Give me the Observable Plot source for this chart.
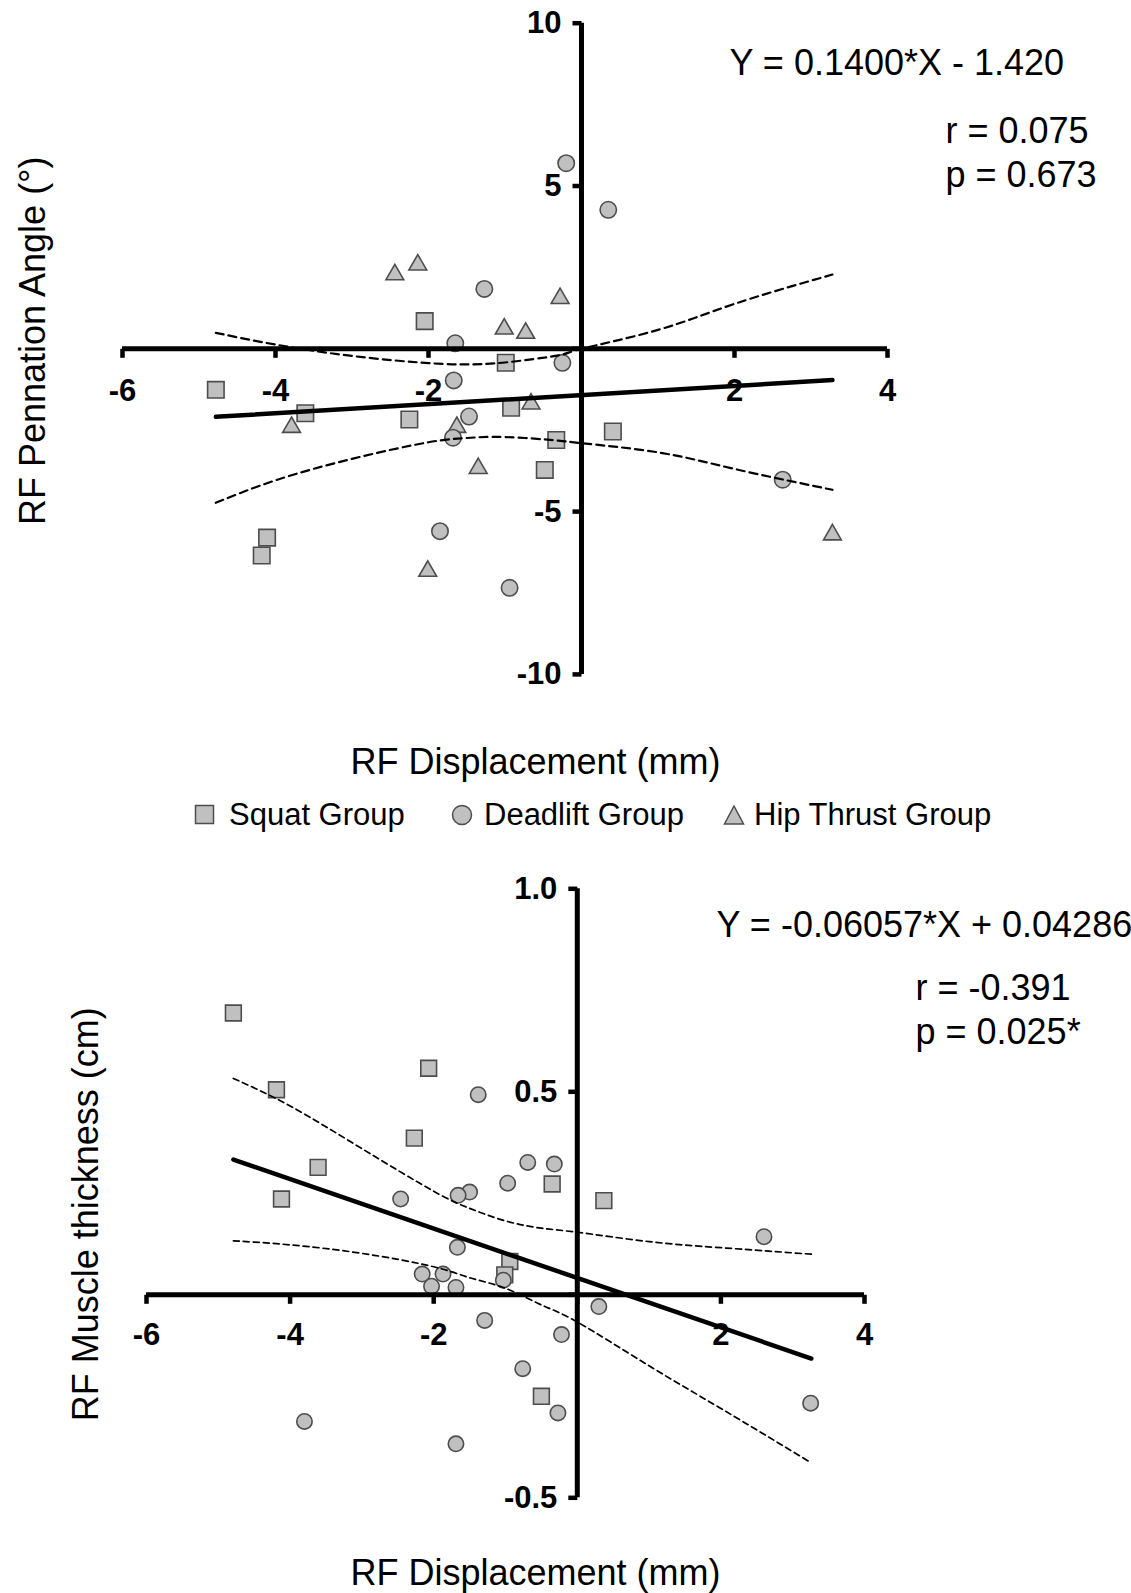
<!DOCTYPE html>
<html>
<head>
<meta charset="utf-8">
<script src="https://cdn.jsdelivr.net/npm/d3@7"></script>
<script src="https://cdn.jsdelivr.net/npm/@observablehq/plot@0.6"></script>
<style>
  body { margin: 0; background: #fff; font-family: "Liberation Sans", Arial, sans-serif; }
  #wrap { width: 1131px; }
  #wrap svg { display: block; }
  .legend { position: relative; width: 1131px; height: 50px; font-size: 31px; color: #000; }
  .legend span { position: absolute; top: 0; line-height: 50px; white-space: nowrap; }
  .legend svg { position: absolute; }
</style>
</head>
<body>
<div id="wrap"></div>
<script>
// ---------- shared ----------
const groups = ["Squat Group", "Deadlift Group", "Hip Thrust Group"];
const xTicks = [-6, -4, -2, 0, 2, 4];
const xTickLabels = [-6, -4, -2, 2, 4];
const xTitle = "RF Displacement (mm)";

// ---------- top panel: pennation angle ----------
const topYTitle = "RF Pennation Angle (°)";
const topYTicks = [-10, -5, 0, 5, 10];
const topYTickLabels = [-10, -5, 5, 10];
const topEquation = "Y = 0.1400*X - 1.420";
const topStats = ["r = 0.075", "p = 0.673"];

const topSquatX = [-2.05, -0.99, -4.78, -3.61, -2.25, -0.92, -0.33, -0.48, -4.11, -4.18, 0.41];
const topSquatY = [0.85, -0.43, -1.26, -1.98, -2.17, -1.81, -2.80, -3.72, -5.80, -6.35, -2.54];
const topDeadX = [-0.20, -1.27, -1.65, -0.25, -1.67, -1.47, -1.68, -1.85, -0.94, 0.35, 2.63];
const topDeadY = [5.70, 1.84, 0.17, -0.43, -0.97, -2.08, -2.73, -5.60, -7.34, 4.27, -4.02];
const topHipX = [-2.44, -2.14, -0.28, -1.01, -0.73, -3.79, -0.66, -1.63, -1.35, -2.01, 3.28];
const topHipY = [2.28, 2.58, 1.55, 0.61, 0.48, -2.41, -1.69, -2.41, -3.67, -6.83, -5.71];

const topFitX = [-4.78, 3.28];
const topFitY = [-2.09, -0.96];
const topUpperX = [-4.78, -4, -3, -2, -1.5, -1, -0.3, 0, 1, 2, 3.28];
const topUpperY = [0.49, 0.13, -0.22, -0.44, -0.48, -0.42, -0.2, 0.0, 0.58, 1.38, 2.28];
const topLowerX = [-4.78, -4, -3, -2, -1.5, -1, -0.3, 0, 1, 2, 3.28];
const topLowerY = [-4.73, -4.04, -3.38, -2.87, -2.74, -2.71, -2.82, -2.9, -3.18, -3.69, -4.33];

// ---------- bottom panel: muscle thickness ----------
const botYTitle = "RF Muscle thickness (cm)";
const botYTicks = [-0.5, 0, 0.5, 1.0];
const botYTickLabels = ["-0.5", "0.5", "1.0"];
const botEquation = "Y = -0.06057*X + 0.04286";
const botStats = ["r = -0.391", "p = 0.025*"];

const botSquatX = [-4.79, -2.07, -4.19, -2.27, -3.61, -0.35, -4.12, 0.37, -0.94, -1.01, -0.50];
const botSquatY = [0.694, 0.558, 0.505, 0.386, 0.314, 0.273, 0.236, 0.232, 0.082, 0.049, -0.250];
const botDeadX = [-1.38, -0.69, -0.32, -0.97, -2.46, -1.50, -1.66, -1.67, 2.60, -1.03, -2.16, -1.87, -2.03, -1.69, -1.29, -0.22, 0.30, -0.76, -0.27, -3.80, -1.69, 3.25];
const botDeadY = [0.493, 0.326, 0.322, 0.275, 0.236, 0.253, 0.245, 0.117, 0.143, 0.036, 0.051, 0.051, 0.021, 0.018, -0.063, -0.098, -0.029, -0.182, -0.291, -0.312, -0.367, -0.267];

const botFitX = [-4.79, 3.26];
const botFitY = [0.333, -0.157];
const botUpperX = [-4.79, -4, -3, -2, -1.5, -1, -0.5, 0, 1, 2, 3.26];
const botUpperY = [0.533, 0.465, 0.36, 0.255, 0.213, 0.182, 0.164, 0.154, 0.131, 0.116, 0.100];
const botLowerX = [-4.79, -4, -3, -2, -1.5, -1, -0.5, 0, 1, 2, 3.26];
const botLowerY = [0.133, 0.123, 0.102, 0.069, 0.042, 0.016, -0.025, -0.067, -0.175, -0.28, -0.414];

// ---------- helpers ----------
const rows = (xs, ys) => xs.map((x, i) => ({x, y: ys[i]}));
const FILL = "#c0c0c0", EDGE = "#4d4d4d";
const tickDown = {draw(ctx) { ctx.moveTo(0, 0); ctx.lineTo(0, 9); }};
const tickLeft = {draw(ctx) { ctx.moveTo(0, 0); ctx.lineTo(-9, 0); }};

function panel(cfg) {
  const marks = [];
  for (const s of cfg.series) {
    marks.push(Plot.dot(rows(s.x, s.y), {
      x: "x", y: "y", symbol: s.symbol, r: s.r,
      fill: FILL, stroke: EDGE, strokeWidth: 1.6
    }));
  }
  marks.push(
    Plot.line(rows(cfg.upperX, cfg.upperY), {x: "x", y: "y", curve: "natural", stroke: "black", strokeWidth: cfg.dashWidth, strokeDasharray: cfg.dash}),
    Plot.line(rows(cfg.lowerX, cfg.lowerY), {x: "x", y: "y", curve: "natural", stroke: "black", strokeWidth: cfg.dashWidth, strokeDasharray: cfg.dash}),
    Plot.line(rows(cfg.fitX, cfg.fitY), {x: "x", y: "y", stroke: "black", strokeWidth: 4.5, strokeLinecap: "round"}),
    // axes crossing at the origin
    Plot.ruleY([0], {x1: cfg.xDomain[0], x2: cfg.xDomain[1], stroke: "black", strokeWidth: 5}),
    Plot.ruleX([0], {y1: cfg.yDomain[0], y2: cfg.yDomain[1], stroke: "black", strokeWidth: 5}),
    Plot.dot(xTicks, {x: d => d, y: 0, symbol: tickDown, fill: "none", stroke: "black", strokeWidth: 4.5}),
    Plot.dot(cfg.yTicks, {x: 0, y: d => d, symbol: tickLeft, fill: "none", stroke: "black", strokeWidth: 4.5}),
    Plot.text(xTickLabels, {x: d => d, y: 0, dy: cfg.xLabDy, text: d => String(d), fontSize: 31, fontWeight: "bold", fill: "black", textAnchor: "middle", lineAnchor: "middle"}),
    Plot.text(cfg.yTickLabels, {x: 0, y: d => +d, dx: -20, text: d => String(d), fontSize: 31, fontWeight: "bold", fill: "black", textAnchor: "end", lineAnchor: "middle"}),
    // axis titles
    Plot.text([xTitle], {frameAnchor: "bottom", dx: cfg.xTitleDx, dy: cfg.xTitleDy, text: d => d, fontSize: 36, fill: "black", textAnchor: "middle", lineAnchor: "middle"}),
    Plot.text([cfg.yTitle], {frameAnchor: "left", dx: cfg.yTitleDx, dy: cfg.yTitleDy, rotate: -90, text: d => d, fontSize: 36, fill: "black", textAnchor: "middle", lineAnchor: "middle"}),
    // annotations
    Plot.text([cfg.equation], {frameAnchor: "top-left", dx: cfg.eqPos[0], dy: cfg.eqPos[1], text: d => d, fontSize: 36, fill: "black", textAnchor: "start", lineAnchor: "middle"}),
    Plot.text([cfg.stats[0]], {frameAnchor: "top-left", dx: cfg.rPos[0], dy: cfg.rPos[1], text: d => d, fontSize: 36, fill: "black", textAnchor: "start", lineAnchor: "middle"}),
    Plot.text([cfg.stats[1]], {frameAnchor: "top-left", dx: cfg.pPos[0], dy: cfg.pPos[1], text: d => d, fontSize: 36, fill: "black", textAnchor: "start", lineAnchor: "middle"})
  );
  return Plot.plot({
    width: 1131,
    height: cfg.height,
    marginTop: cfg.margins[0], marginRight: cfg.margins[1], marginBottom: cfg.margins[2], marginLeft: cfg.margins[3],
    x: {domain: cfg.xDomain, axis: null},
    y: {domain: cfg.yDomain, axis: null},
    style: {fontFamily: "'Liberation Sans', Arial, sans-serif", background: "white", overflow: "visible"},
    marks
  });
}

const wrap = document.getElementById("wrap");

wrap.appendChild(panel({
  height: 790, margins: [22.7, 244, 116.1, 122],
  xDomain: [-6, 4], yDomain: [-10, 10],
  yTicks: topYTicks, yTickLabels: topYTickLabels,
  series: [
    {x: topSquatX, y: topSquatY, symbol: "square", r: 9.3},
    {x: topHipX, y: topHipY, symbol: "triangle", r: 6.6},
    {x: topDeadX, y: topDeadY, symbol: "circle", r: 8.2}
  ],
  upperX: topUpperX, upperY: topUpperY, lowerX: topLowerX, lowerY: topLowerY,
  fitX: topFitX, fitY: topFitY, dash: "8,5", dashWidth: 2.2,
  xLabDy: 42, xTitleDx: 30.5, xTitleDy: 88,
  yTitle: topYTitle, yTitleDx: -89.5, yTitleDy: -8,
  equation: topEquation, stats: topStats,
  eqPos: [607, 40.3], rPos: [823, 108], pPos: [823, 152]
}));

// legend (HTML between the panels)
const legend = document.createElement("div");
legend.className = "legend";
const legendItems = [
  {shape: "square", iconX: 194, textX: 229},
  {shape: "circle", iconX: 451, textX: 484},
  {shape: "triangle", iconX: 723, textX: 754}
];
legendItems.forEach((it, i) => {
  const svgNS = "http://www.w3.org/2000/svg";
  const svg = document.createElementNS(svgNS, "svg");
  svg.setAttribute("width", 22); svg.setAttribute("height", 22);
  svg.style.left = it.iconX + "px"; svg.style.top = "14px";
  let el;
  if (it.shape === "square") {
    el = document.createElementNS(svgNS, "rect");
    el.setAttribute("x", 1.5); el.setAttribute("y", 1.5); el.setAttribute("width", 18); el.setAttribute("height", 18);
  } else if (it.shape === "circle") {
    el = document.createElementNS(svgNS, "circle");
    el.setAttribute("cx", 11); el.setAttribute("cy", 11); el.setAttribute("r", 9.5);
  } else {
    el = document.createElementNS(svgNS, "path");
    el.setAttribute("d", "M11,2 L20.5,20 L1.5,20 Z");
  }
  el.setAttribute("fill", FILL); el.setAttribute("stroke", EDGE); el.setAttribute("stroke-width", 1.5);
  svg.appendChild(el);
  legend.appendChild(svg);
  const span = document.createElement("span");
  span.style.left = it.textX + "px";
  span.textContent = groups[i];
  legend.appendChild(span);
});
wrap.appendChild(legend);

wrap.appendChild(panel({
  height: 753, margins: [48.3, 267, 95.7, 146],
  xDomain: [-6, 4], yDomain: [-0.5, 1.0],
  yTicks: botYTicks, yTickLabels: botYTickLabels,
  series: [
    {x: botSquatX, y: botSquatY, symbol: "square", r: 8.9},
    {x: botDeadX, y: botDeadY, symbol: "circle", r: 7.7}
  ],
  upperX: botUpperX, upperY: botUpperY, lowerX: botLowerX, lowerY: botLowerY,
  fitX: botFitX, fitY: botFitY, dash: "6,4", dashWidth: 1.7,
  xLabDy: 40, xTitleDx: 30, xTitleDy: 75.7,
  yTitle: botYTitle, yTitleDx: -60, yTitleDy: 21,
  equation: botEquation, stats: botStats,
  eqPos: [570, 36.7], rPos: [769, 99.7], pPos: [769, 143.7]
}));
</script>
</body>
</html>
